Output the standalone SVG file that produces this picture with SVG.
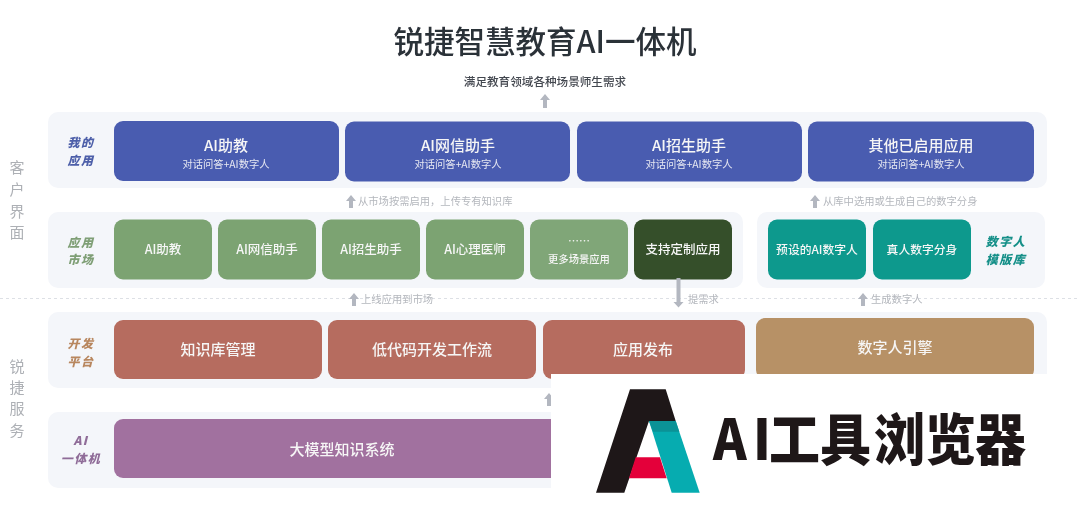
<svg xmlns="http://www.w3.org/2000/svg" width="1080" height="511" viewBox="0 0 1080 511">
<style>
text{font-family:"Noto Sans CJK SC","Noto Sans",sans-serif;text-anchor:middle}
.band{fill:#f4f6fa}
.box{stroke:none}
.blue{fill:#4a5cb0}.green{fill:#7ba372}.lgreen{fill:#80a678}.dgreen{fill:#344f29}.teal{fill:#0b998d}.red{fill:#b66c5e}.tan{fill:#b79166}.purple{fill:#a1719f}
.t{fill:#f6f6f6;font-weight:500}
.l15{font-size:15px}.l12{font-size:12.5px}.s{font-size:10.3px;fill:#e6e8f2}
.side{font-size:15px;fill:#adb0b5}
.tag{font-size:12px;font-weight:900;font-style:italic;letter-spacing:1.5px}
.note{font-size:10.3px;fill:#b4b7bd;text-anchor:start}
.arrow{fill:#b3b7c0}
.logo{font-size:51px;font-weight:900;fill:#1e1718;text-anchor:start}
</style>
<defs><filter id="soft" x="0" y="0" width="100%" height="100%"><feGaussianBlur stdDeviation="0.35"/></filter></defs>
<rect width="1080" height="511" fill="#ffffff"/>
<g filter="url(#soft)">
<g id="bands">
<rect class="band" x="48" y="112" width="999" height="76" rx="10"/>
<rect class="band" x="48" y="212" width="695" height="76" rx="10"/>
<rect class="band" x="757" y="212" width="288" height="76" rx="10"/>
<rect class="band" x="48" y="312" width="999" height="76" rx="10"/>
<rect class="band" x="48" y="412" width="999" height="76" rx="10"/>
</g>
<path id="divider" d="M0 298.5H1080" stroke="#dde0e5" stroke-width="1" stroke-dasharray="3 3" fill="none"/>
<g id="title"><text x="545" y="53" font-size="30.5" font-weight="500" fill="#2c3038">锐捷智慧教育AI一体机</text></g>
<g id="subtitle"><text x="545" y="85.5" font-size="11.6" font-weight="500" fill="#43474f">满足教育领域各种场景师生需求</text></g>
<g id="side-client">
<text class="side" x="17" y="173">客</text><text class="side" x="17" y="195">户</text><text class="side" x="17" y="217">界</text><text class="side" x="17" y="238">面</text>
</g>
<g id="side-service">
<text class="side" x="17" y="372">锐</text><text class="side" x="17" y="393">捷</text><text class="side" x="17" y="414">服</text><text class="side" x="17" y="436">务</text>
</g>
<g id="tag-my"><text class="tag" fill="#4d5fa9" x="81" y="147">我的</text><text class="tag" fill="#4d5fa9" x="81" y="164.5">应用</text></g>
<g id="tag-market"><text class="tag" fill="#7f9f76" x="81" y="246.5">应用</text><text class="tag" fill="#7f9f76" x="81" y="264">市场</text></g>
<g id="tag-dev"><text class="tag" fill="#b8875f" x="81" y="348">开发</text><text class="tag" fill="#b8875f" x="81" y="365.5">平台</text></g>
<g id="tag-ai"><text class="tag" fill="#8f6c98" x="81" y="445">AI</text><text class="tag" fill="#8f6c98" x="81" y="462.5">一体机</text></g>
<g id="tag-digital"><text class="tag" fill="#128f88" x="1006" y="246">数字人</text><text class="tag" fill="#128f88" x="1006" y="263.5">模版库</text></g>

<g id="my-1"><rect class="box blue" x="114" y="121" width="225" height="60" rx="9"/><text class="t l15" x="226" y="150.5">AI助教</text><text class="s" x="226" y="168">对话问答+AI数字人</text></g>
<g id="my-2"><rect class="box blue" x="345" y="121.5" width="225" height="60" rx="9"/><text class="t l15" x="458" y="150.5">AI网信助手</text><text class="s" x="458" y="168">对话问答+AI数字人</text></g>
<g id="my-3"><rect class="box blue" x="577" y="121.5" width="225" height="60" rx="9"/><text class="t l15" x="689" y="150.5">AI招生助手</text><text class="s" x="689" y="168">对话问答+AI数字人</text></g>
<g id="my-4"><rect class="box blue" x="808" y="121.5" width="226" height="60" rx="9"/><text class="t l15" x="921" y="150.5">其他已启用应用</text><text class="s" x="921" y="168">对话问答+AI数字人</text></g>

<g id="market-1"><rect class="box green" x="114" y="219.5" width="98" height="60" rx="9"/><text class="t l12" x="163" y="254">AI助教</text></g>
<g id="market-2"><rect class="box green" x="218" y="219.5" width="98" height="60" rx="9"/><text class="t l12" x="267" y="254">AI网信助手</text></g>
<g id="market-3"><rect class="box green" x="322" y="219.5" width="98" height="60" rx="9"/><text class="t l12" x="371" y="254">AI招生助手</text></g>
<g id="market-4"><rect class="box green" x="426" y="219.5" width="98" height="60" rx="9"/><text class="t l12" x="475" y="254">AI心理医师</text></g>
<g id="market-5"><rect class="box lgreen" x="530" y="219.5" width="98" height="60" rx="9"/><text class="t" font-size="11" x="579" y="245">……</text><text class="t" font-size="10.3" x="579" y="263">更多场景应用</text></g>
<g id="market-6"><rect class="box dgreen" x="634" y="219.5" width="98" height="60" rx="9"/><text class="t l12" x="683" y="254">支持定制应用</text></g>
<g id="digital-1"><rect class="box teal" x="768" y="219.5" width="98" height="60" rx="9"/><text class="t" font-size="11.8" x="817" y="254">预设的AI数字人</text></g>
<g id="digital-2"><rect class="box teal" x="873" y="219.5" width="98" height="60" rx="9"/><text class="t" font-size="11.8" x="922" y="254">真人数字分身</text></g>

<g id="dev-1"><rect class="box red" x="114" y="320" width="208" height="59" rx="9"/><text class="t l15" x="218" y="355">知识库管理</text></g>
<g id="dev-2"><rect class="box red" x="328" y="320" width="208" height="59" rx="9"/><text class="t l15" x="432" y="355">低代码开发工作流</text></g>
<g id="dev-3"><rect class="box red" x="543" y="320" width="202" height="59" rx="9"/><text class="t l15" x="643" y="355">应用发布</text></g>
<g id="dev-4"><rect class="box tan" x="756" y="318" width="278" height="61" rx="9"/><text class="t l15" x="895" y="353">数字人引擎</text></g>
<g id="ai-1"><rect class="box purple" x="114" y="419" width="460" height="59" rx="9"/><text class="t l15" x="342" y="455">大模型知识系统</text></g>

<g id="connectors">
<path class="arrow" d="M545 94l5 6h-3v8h-4v-8h-3z"/>
<path class="arrow" d="M351 195l5 6h-3v7h-4v-7h-3z"/>
<path class="arrow" d="M815 195l5 6h-3v7h-4v-7h-3z"/>
<path class="arrow" d="M354 293l5 6h-3v7h-4v-7h-3z"/>
<path class="arrow" d="M863 293l5 6h-3v7h-4v-7h-3z"/>
<path class="arrow" d="M549 393l5 6h-3v7h-4v-7h-3z"/>
<path class="arrow" d="M676.5 278h4v24h3l-5 5.500-5-5.500h3z"/>
</g>
<g id="notes">
<text class="note" x="358" y="205">从市场按需启用，上传专有知识库</text>
<text class="note" x="823" y="205">从库中选用或生成自己的数字分身</text>
<text class="note" x="361" y="303">上线应用到市场</text>
<text class="note" x="688" y="303">提需求</text>
<text class="note" x="871" y="303">生成数字人</text>
</g>
</g>
<g id="watermark">
<rect x="551" y="374" width="529" height="137" fill="#ffffff"/>
<path d="M630 389.3H665.700L675.700 421H649L624.300 492.700H596Z" fill="#1e1718"/>
<path d="M649 421H675.700L699.700 492.700H671.700Z" fill="#06acb0"/>
<path d="M649 421H675.700L679.300 431.700H653Z" fill="#0b9296"/>
<path d="M635.700 457.300H660L666.700 478.300H629Z" fill="#e4003a"/>
<text class="logo" transform="translate(0 460) scale(1 1.1)" x="713 753 769 820 874 925 975" y="0">AI工具浏览器</text>
</g>
</svg>
